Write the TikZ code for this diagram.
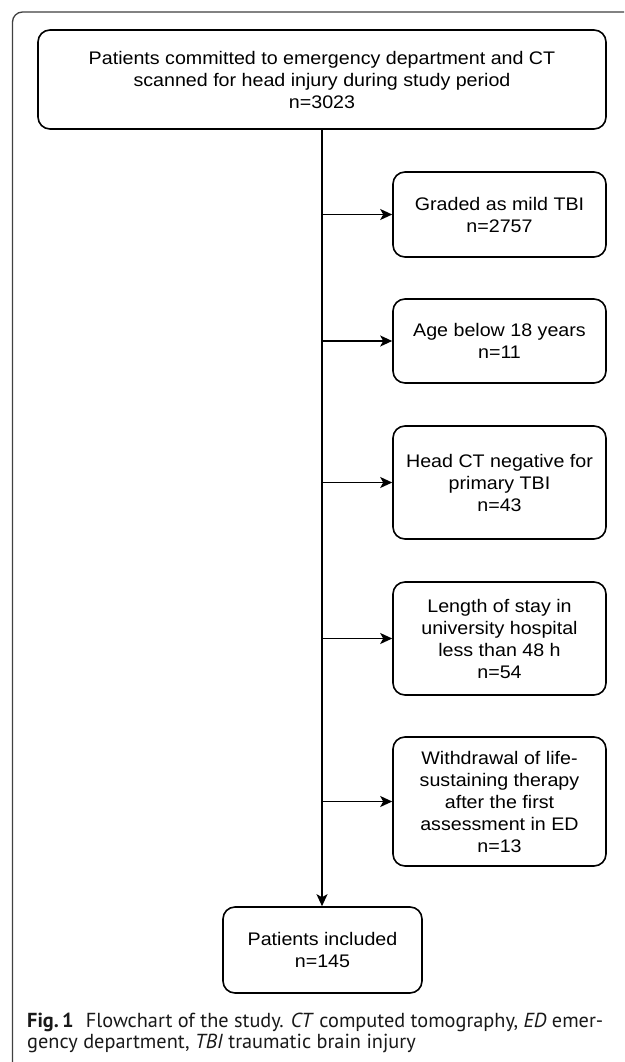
\documentclass[tikz,border=0pt]{standalone}
\usepackage{fontspec}
\setmainfont[FakeStretch=1.08]{Liberation Sans}
\newfontfamily\capfont{PT Sans}
\usetikzlibrary{arrows.meta}
\begin{document}
\begin{tikzpicture}[x=1pt,y=-1pt,
  flowbox/.style={draw=black, line width=1.6pt, rounded corners=12pt, align=center, inner sep=0pt, font=\fontsize{18.2}{22}\selectfont},
  sidebox/.style={flowbox, minimum width=213pt},
  conn/.style={draw=black, line width=1.7pt},
  arr/.style={conn, -{Stealth[length=12pt,width=11pt,inset=3pt]}},
  captext/.style={anchor=base west, inner sep=0pt, font=\capfont\fontsize{20.3}{21}\selectfont, text=black!90},
]
\useasboundingbox (0,0) rectangle (624,1062);
\fill[white] (0,0) rectangle (624,1062);
\draw[black!75, line width=1.3pt, rounded corners=10pt] (12.5,1062) -- (12.5,12) -- (624,12);

\node[flowbox, minimum width=568pt, minimum height=99pt] (top) at (322,79.5)
  {Patients committed to emergency department and CT\\ scanned for head injury during study period\\ n=3023};
\node[sidebox, minimum height=85pt] (g) at (499.5,214.5) {Graded as mild TBI\\ n=2757};
\node[sidebox, minimum height=84pt] (a) at (499.5,341) {Age below 18 years\\ n=11};
\node[sidebox, minimum height=113pt] (h) at (499.5,482.5) {Head CT negative for\\ primary TBI\\ n=43};
\node[sidebox, minimum height=113pt] (l) at (499.5,638.5) {Length of stay in\\ university hospital\\ less than 48 h\\ n=54};
\node[sidebox, minimum height=129pt] (w) at (499.5,801.5) {Withdrawal of life-\\ sustaining therapy\\ after the first\\ assessment in ED\\ n=13};
\node[flowbox, minimum width=199pt, minimum height=86pt] (p) at (322.5,950) {Patients included\\ n=145};

\draw[arr] (top.south) -- (top.south |- p.north);
\foreach \b in {g,a,h,l,w}{
  \draw[arr] (top.south |- \b.west) -- (\b.west);
}

\node[captext] (cap1) at (27,1027) {\textbf{Fig.\,1}\hspace{0.6em}Flowchart of the study. \textit{CT} computed tomography, \textit{ED} emer-};
\node[captext] (cap2) at (27,1048) {gency department, \textit{TBI} traumatic brain injury};
\end{tikzpicture}
\end{document}
